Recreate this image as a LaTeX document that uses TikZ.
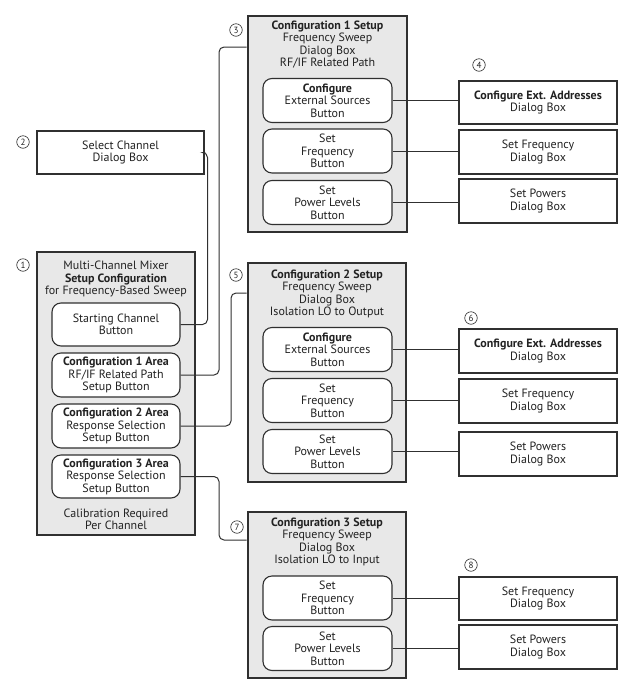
\documentclass[tikz,border=0pt]{standalone}
\usepackage{fontspec}
\setmainfont{PT Sans}
\definecolor{dk}{HTML}{303030}
\definecolor{tx}{HTML}{222222}
\definecolor{boxgray}{HTML}{E8E8E8}
\begin{document}
\begin{tikzpicture}[x=1pt,y=-1pt,
  every node/.style={text=tx},
  fs/.style={font=\fontsize{12}{12.5}\selectfont},
  bigbox/.style={draw=dk, line width=2.8pt, fill=boxgray, inner sep=0pt},
  txt/.style={fs, align=center, inner sep=0pt},
  btn/.style={fs, draw=dk, line width=1.1pt, fill=white, rounded corners=9pt, minimum width=129pt, minimum height=44pt, align=center, inner sep=1pt},
  dbox/.style={fs, draw=dk, line width=2.8pt, fill=white, minimum width=158pt, minimum height=44pt, align=center, inner sep=1pt},
  conn/.style={draw=dk, line width=1pt, rounded corners=5pt},
  num/.style={circle, draw=tx, line width=0.6pt, inner sep=0pt, minimum size=12.5pt, font=\fontsize{9}{9}\selectfont}
]
\useasboundingbox (0,0) rectangle (633,689);

% Box 2
\node[dbox, minimum width=167pt, minimum height=43pt] (b2) at (120.5,152.5) {Select Channel\\Dialog Box};
\node[num] (n2) at (23,142) {2};

% Box 1
\node[bigbox, minimum width=158pt, minimum height=283pt] (b1) at (116,393.5) {};
\node[num] (n1) at (23,265) {1};
\node[txt] (b1t) at (116,279) {Multi-Channel Mixer\\\textbf{Setup Configuration}\\for Frequency-Based Sweep};
\node[btn, minimum width=128pt, minimum height=43pt] (sb) at (116,324.5) {Starting Channel\\Button};
\node[btn, minimum width=128pt, minimum height=44pt] (c1a) at (116,375) {\textbf{Configuration 1 Area}\\RF/IF Related Path\\Setup Button};
\node[btn, minimum width=128pt, minimum height=44pt] (c2a) at (116,426) {\textbf{Configuration 2 Area}\\Response Selection\\Setup Button};
\node[btn, minimum width=128pt, minimum height=43pt] (c3a) at (116,476.5) {\textbf{Configuration 3 Area}\\Response Selection\\Setup Button};
\node[txt] (b1c) at (116,519.5) {Calibration Required\\Per Channel};

% Box 3
\node[bigbox, minimum width=159pt, minimum height=216pt] (b3) at (327.5,124) {};
\node[num] (n3) at (236,30) {3};
\node[txt] (b3t) at (327.5,44.5) {\textbf{Configuration 1 Setup}\\Frequency Sweep\\Dialog Box\\RF/IF Related Path};
\node[btn] (b3a) at (327.5,100.5) {\textbf{Configure}\\External Sources\\Button};
\node[btn] (b3b) at (327.5,151) {Set\\Frequency\\Button};
\node[btn] (b3c) at (327.5,202.5) {Set\\Power Levels\\Button};
\node[num] (n4) at (479,65) {4};
\node[dbox, minimum height=43pt] (d4a) at (538,102.5) {\textbf{Configure Ext. Addresses}\\Dialog Box};
\node[dbox] (d4b) at (538,152) {Set Frequency\\Dialog Box};
\node[dbox] (d4c) at (538,201) {Set Powers\\Dialog Box};

% Box 5
\node[bigbox, minimum width=158pt, minimum height=219pt] (b5) at (327,372.5) {};
\node[num] (n5) at (236,275) {5};
\node[txt] (b5t) at (327,294) {\textbf{Configuration 2 Setup}\\Frequency Sweep\\Dialog Box\\Isolation LO to Output};
\node[btn] (b5a) at (327.5,349.5) {\textbf{Configure}\\External Sources\\Button};
\node[btn] (b5b) at (327.5,400.5) {Set\\Frequency\\Button};
\node[btn] (b5c) at (327.5,451.5) {Set\\Power Levels\\Button};
\node[num] (n6) at (471,318) {6};
\node[dbox] (d6a) at (538,351) {\textbf{Configure Ext. Addresses}\\Dialog Box};
\node[dbox] (d6b) at (538,401) {Set Frequency\\Dialog Box};
\node[dbox] (d6c) at (538,454) {Set Powers\\Dialog Box};

% Box 7
\node[bigbox, minimum width=158pt, minimum height=166pt] (b7) at (327,595) {};
\node[num] (n7) at (237,527) {7};
\node[txt] (b7t) at (327,542) {\textbf{Configuration 3 Setup}\\Frequency Sweep\\Dialog Box\\Isolation LO to Input};
\node[btn] (b7a) at (327.5,598) {Set\\Frequency\\Button};
\node[btn] (b7b) at (327.5,648.5) {Set\\Power Levels\\Button};
\node[num] (n8) at (471,565) {8};
\node[dbox, minimum height=43pt] (d8a) at (538,598.5) {Set Frequency\\Dialog Box};
\node[dbox] (d8b) at (538,647) {Set Powers\\Dialog Box};

% connection points on container boxes
\coordinate (p3) at (b3.west |- 0,47);
\coordinate (p5) at (b5.west |- 0,293);
\coordinate (p7) at (b7.west |- 0,540);

% connectors left
\draw[conn] (b2.east) -- (207.5,152.5) -- (207.5,324.5) -- (sb.east);
\draw[conn] (c1a.east) -- (219,375) -- (219,47) -- (p3);
\draw[conn] (c2a.east) -- (231,426) -- (231,293) -- (p5);
\draw[conn] (c3a.east) -- (219,476.5) -- (219,540) -- (p7);

% connectors right
\draw[conn] (b3a.east) -- (b3a.east -| d4a.west);
\draw[conn] (b3b.east) -- (b3b.east -| d4b.west);
\draw[conn] (b3c.east) -- (b3c.east -| d4c.west);
\draw[conn] (b5a.east) -- (b5a.east -| d6a.west);
\draw[conn] (b5b.east) -- (b5b.east -| d6b.west);
\draw[conn] (b5c.east) -- (b5c.east -| d6c.west);
\draw[conn] (b7a.east) -- (b7a.east -| d8a.west);
\draw[conn] (b7b.east) -- (b7b.east -| d8b.west);
\end{tikzpicture}
\end{document}
